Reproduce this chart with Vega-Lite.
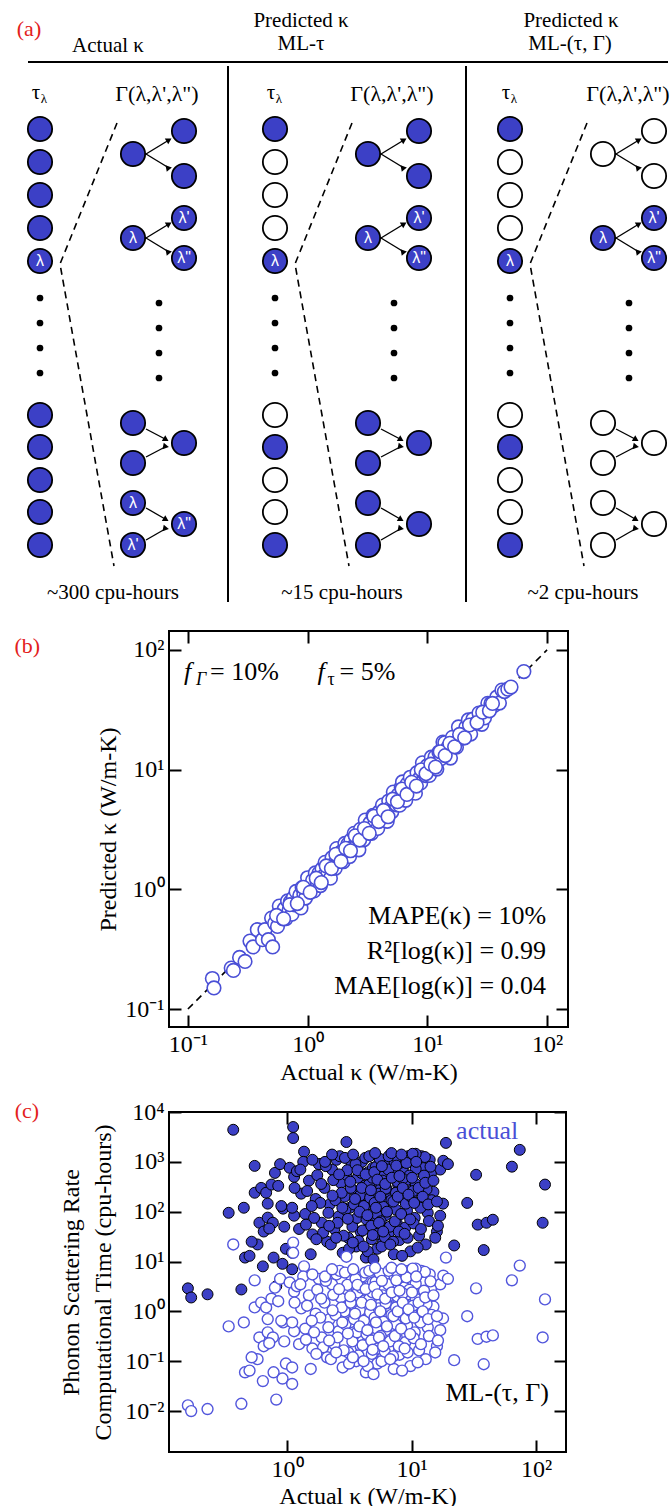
{
  "$schema": "https://vega.github.io/schema/vega-lite/v6.json",
  "padding": 0,
  "background": "white",
  "spacing": 14,
  "config": {
    "font": "Liberation Serif",
    "view": {"stroke": "black", "strokeWidth": 2},
    "axis": {"labelFont": "Liberation Serif", "labelFontSize": 24, "labelColor": "black", "titleFont": "Liberation Serif", "titleFontSize": 24, "titleFontWeight": "normal", "titleColor": "black", "tickColor": "black", "tickWidth": 2, "tickSize": -12, "labelPadding": 17, "domain": false, "grid": false}
  },
  "datasets": {
    "frameA": [{"x": 0, "y": 0, "x2": 670, "y2": 0}],
    "linesA": [{"x": 27, "y": 61, "x2": 667, "y2": 61}, {"x": 227, "y": 65, "x2": 227, "y2": 601}, {"x": 465, "y": 65, "x2": 465, "y2": 601}],
    "dashA": [
      {"col": 1, "seq": 1, "x": 116, "y": 122}, {"col": 1, "seq": 2, "x": 59, "y": 263}, {"col": 1, "seq": 3, "x": 113, "y": 565},
      {"col": 2, "seq": 1, "x": 351, "y": 122}, {"col": 2, "seq": 2, "x": 294, "y": 263}, {"col": 2, "seq": 3, "x": 348, "y": 565},
      {"col": 3, "seq": 1, "x": 586, "y": 122}, {"col": 3, "seq": 2, "x": 529, "y": 263}, {"col": 3, "seq": 3, "x": 583, "y": 565}
    ],
    "arrowA": [
      {"x": 145, "y": 153, "x2": 168, "y2": 139, "d": "u1"}, {"x": 145, "y": 153, "x2": 168, "y2": 167, "d": "d1"},
      {"x": 145, "y": 237, "x2": 168, "y2": 223, "d": "u1"}, {"x": 145, "y": 237, "x2": 168, "y2": 251, "d": "d1"},
      {"x": 145, "y": 428, "x2": 165, "y2": 438.5, "d": "d2"}, {"x": 145, "y": 456, "x2": 165, "y2": 445.5, "d": "u2"},
      {"x": 145, "y": 507, "x2": 165, "y2": 518.5, "d": "d2"}, {"x": 145, "y": 539, "x2": 165, "y2": 527.5, "d": "u2"},
      {"x": 380, "y": 153, "x2": 403, "y2": 139, "d": "u1"}, {"x": 380, "y": 153, "x2": 403, "y2": 167, "d": "d1"},
      {"x": 380, "y": 237, "x2": 403, "y2": 223, "d": "u1"}, {"x": 380, "y": 237, "x2": 403, "y2": 251, "d": "d1"},
      {"x": 380, "y": 428, "x2": 400, "y2": 438.5, "d": "d2"}, {"x": 380, "y": 456, "x2": 400, "y2": 445.5, "d": "u2"},
      {"x": 380, "y": 507, "x2": 400, "y2": 518.5, "d": "d2"}, {"x": 380, "y": 539, "x2": 400, "y2": 527.5, "d": "u2"},
      {"x": 615, "y": 153, "x2": 638, "y2": 139, "d": "u1"}, {"x": 615, "y": 153, "x2": 638, "y2": 167, "d": "d1"},
      {"x": 615, "y": 237, "x2": 638, "y2": 223, "d": "u1"}, {"x": 615, "y": 237, "x2": 638, "y2": 251, "d": "d1"},
      {"x": 615, "y": 428, "x2": 635, "y2": 438.5, "d": "d2"}, {"x": 615, "y": 456, "x2": 635, "y2": 445.5, "d": "u2"},
      {"x": 615, "y": 507, "x2": 635, "y2": 518.5, "d": "d2"}, {"x": 615, "y": 539, "x2": 635, "y2": 527.5, "d": "u2"}
    ],
    "circA": [
      {"x": 39, "y": 128, "s": "on"}, {"x": 39, "y": 161, "s": "on"}, {"x": 39, "y": 194, "s": "on"}, {"x": 39, "y": 227, "s": "on"}, {"x": 39, "y": 260, "s": "on"},
      {"x": 39, "y": 414, "s": "on"}, {"x": 39, "y": 446, "s": "on"}, {"x": 39, "y": 479, "s": "on"}, {"x": 39, "y": 511, "s": "on"}, {"x": 39, "y": 544, "s": "on"},
      {"x": 132, "y": 153, "s": "on"}, {"x": 183, "y": 130, "s": "on"}, {"x": 183, "y": 175, "s": "on"},
      {"x": 132, "y": 237, "s": "on"}, {"x": 183, "y": 217, "s": "on"}, {"x": 183, "y": 257, "s": "on"},
      {"x": 132, "y": 422, "s": "on"}, {"x": 132, "y": 462, "s": "on"}, {"x": 183, "y": 442, "s": "on"},
      {"x": 132, "y": 502, "s": "on"}, {"x": 132, "y": 544, "s": "on"}, {"x": 183, "y": 523, "s": "on"},
      {"x": 274, "y": 128, "s": "on"}, {"x": 274, "y": 161, "s": "off"}, {"x": 274, "y": 194, "s": "off"}, {"x": 274, "y": 227, "s": "off"}, {"x": 274, "y": 260, "s": "on"},
      {"x": 274, "y": 414, "s": "off"}, {"x": 274, "y": 446, "s": "on"}, {"x": 274, "y": 479, "s": "off"}, {"x": 274, "y": 511, "s": "off"}, {"x": 274, "y": 544, "s": "on"},
      {"x": 367, "y": 153, "s": "on"}, {"x": 418, "y": 130, "s": "on"}, {"x": 418, "y": 175, "s": "on"},
      {"x": 367, "y": 237, "s": "on"}, {"x": 418, "y": 217, "s": "on"}, {"x": 418, "y": 257, "s": "on"},
      {"x": 367, "y": 422, "s": "on"}, {"x": 367, "y": 462, "s": "on"}, {"x": 418, "y": 442, "s": "on"},
      {"x": 367, "y": 502, "s": "on"}, {"x": 367, "y": 544, "s": "on"}, {"x": 418, "y": 523, "s": "on"},
      {"x": 509, "y": 128, "s": "on"}, {"x": 509, "y": 161, "s": "off"}, {"x": 509, "y": 194, "s": "off"}, {"x": 509, "y": 227, "s": "off"}, {"x": 509, "y": 260, "s": "on"},
      {"x": 509, "y": 414, "s": "off"}, {"x": 509, "y": 446, "s": "on"}, {"x": 509, "y": 479, "s": "off"}, {"x": 509, "y": 511, "s": "off"}, {"x": 509, "y": 544, "s": "on"},
      {"x": 602, "y": 153, "s": "off"}, {"x": 653, "y": 130, "s": "off"}, {"x": 653, "y": 175, "s": "off"},
      {"x": 602, "y": 237, "s": "on"}, {"x": 653, "y": 217, "s": "on"}, {"x": 653, "y": 257, "s": "on"},
      {"x": 602, "y": 422, "s": "off"}, {"x": 602, "y": 462, "s": "off"}, {"x": 653, "y": 442, "s": "off"},
      {"x": 602, "y": 502, "s": "off"}, {"x": 602, "y": 544, "s": "off"}, {"x": 653, "y": 523, "s": "off"}
    ],
    "dotsA": [
      {"x": 39, "y": 297}, {"x": 39, "y": 322}, {"x": 39, "y": 347}, {"x": 39, "y": 372},
      {"x": 158, "y": 302}, {"x": 158, "y": 327}, {"x": 158, "y": 352}, {"x": 158, "y": 377},
      {"x": 274, "y": 297}, {"x": 274, "y": 322}, {"x": 274, "y": 347}, {"x": 274, "y": 372},
      {"x": 393, "y": 302}, {"x": 393, "y": 327}, {"x": 393, "y": 352}, {"x": 393, "y": 377},
      {"x": 509, "y": 297}, {"x": 509, "y": 322}, {"x": 509, "y": 347}, {"x": 509, "y": 372},
      {"x": 628, "y": 302}, {"x": 628, "y": 327}, {"x": 628, "y": 352}, {"x": 628, "y": 377}
    ],
    "lblA": [
      {"x": 39, "y": 260, "t": "λ"}, {"x": 132, "y": 237, "t": "λ"}, {"x": 183, "y": 217, "t": "λ'"}, {"x": 183, "y": 257, "t": "λ\""},
      {"x": 132, "y": 502, "t": "λ"}, {"x": 132, "y": 544, "t": "λ'"}, {"x": 183, "y": 523, "t": "λ\""},
      {"x": 274, "y": 260, "t": "λ"}, {"x": 367, "y": 237, "t": "λ"}, {"x": 418, "y": 217, "t": "λ'"}, {"x": 418, "y": 257, "t": "λ\""},
      {"x": 509, "y": 260, "t": "λ"}, {"x": 602, "y": 237, "t": "λ"}, {"x": 653, "y": 217, "t": "λ'"}, {"x": 653, "y": 257, "t": "λ\""}
    ],
    "txtA": [
      {"x": 107, "y": 45, "t": "Actual κ"}, {"x": 300, "y": 20, "t": "Predicted κ"}, {"x": 300, "y": 43, "t": "ML-τ"},
      {"x": 570, "y": 20, "t": "Predicted κ"}, {"x": 569, "y": 43, "t": "ML-(τ, Γ)"},
      {"x": 112, "y": 592, "t": "~300 cpu-hours"}, {"x": 341, "y": 592, "t": "~15 cpu-hours"}, {"x": 582, "y": 592, "t": "~2 cpu-hours"},
      {"x": 35, "y": 92, "t": "τ"}, {"x": 270, "y": 92, "t": "τ"}, {"x": 505, "y": 92, "t": "τ"}
    ],
    "gamA": [{"x": 156, "y": 93, "t": "Γ(λ,λ',λ\")"}, {"x": 391, "y": 93, "t": "Γ(λ,λ',λ\")"}, {"x": 627, "y": 93, "t": "Γ(λ,λ',λ\")"}],
    "subA": [{"x": 43, "y": 98, "t": "λ"}, {"x": 278, "y": 98, "t": "λ"}, {"x": 513, "y": 98, "t": "λ"}],
    "ptsB": [
      {"a": 0.16, "p": 0.18}, {"a": 0.165, "p": 0.15}, {"a": 0.23, "p": 0.22}, {"a": 0.24, "p": 0.21}, {"a": 0.27, "p": 0.27},
      {"a": 0.3, "p": 0.25}, {"a": 0.33, "p": 0.37}, {"a": 0.35, "p": 0.33}, {"a": 0.38, "p": 0.46}, {"a": 0.42, "p": 0.38},
      {"a": 0.44, "p": 0.46}, {"a": 0.47, "p": 0.38}, {"a": 0.5, "p": 0.575}, {"a": 0.51, "p": 0.33}, {"a": 0.53, "p": 0.52},
      {"a": 0.56, "p": 0.49}, {"a": 0.58, "p": 0.725}, {"a": 0.6, "p": 0.6}, {"a": 0.62, "p": 0.57}, {"a": 0.64, "p": 0.69},
      {"a": 0.66, "p": 0.57}, {"a": 0.68, "p": 0.8}, {"a": 0.7, "p": 0.67}, {"a": 0.72, "p": 0.79}, {"a": 0.74, "p": 0.62},
      {"a": 0.76, "p": 0.85}, {"a": 0.78, "p": 0.74}, {"a": 0.8, "p": 0.96}, {"a": 0.83, "p": 0.75}, {"a": 0.86, "p": 0.89},
      {"a": 0.88, "p": 0.7}, {"a": 0.9, "p": 1.035}, {"a": 0.93, "p": 0.91}, {"a": 0.96, "p": 0.845}, {"a": 1.0, "p": 1.25},
      {"a": 1.03, "p": 1.03}, {"a": 1.06, "p": 0.975}, {"a": 1.1, "p": 1.19}, {"a": 1.13, "p": 0.97}, {"a": 1.16, "p": 1.37},
      {"a": 1.2, "p": 1.15}, {"a": 1.24, "p": 1.36}, {"a": 1.28, "p": 1.075}, {"a": 1.32, "p": 1.48}, {"a": 1.36, "p": 1.29},
      {"a": 1.4, "p": 1.68}, {"a": 1.45, "p": 1.305}, {"a": 1.5, "p": 1.56}, {"a": 1.55, "p": 1.24}, {"a": 1.6, "p": 1.84},
      {"a": 1.65, "p": 1.62}, {"a": 1.7, "p": 1.5}, {"a": 1.75, "p": 2.19}, {"a": 1.8, "p": 1.8}, {"a": 1.86, "p": 1.71},
      {"a": 1.92, "p": 2.07}, {"a": 1.98, "p": 1.7}, {"a": 2.05, "p": 2.42}, {"a": 2.1, "p": 2.02}, {"a": 2.17, "p": 2.39},
      {"a": 2.24, "p": 1.88}, {"a": 2.3, "p": 2.58}, {"a": 2.38, "p": 2.26}, {"a": 2.45, "p": 2.94}, {"a": 2.52, "p": 2.27},
      {"a": 2.6, "p": 2.7}, {"a": 2.68, "p": 2.14}, {"a": 2.76, "p": 3.17}, {"a": 2.85, "p": 2.79}, {"a": 2.94, "p": 2.59},
      {"a": 3.03, "p": 3.79}, {"a": 3.12, "p": 3.12}, {"a": 3.22, "p": 2.96}, {"a": 3.32, "p": 3.59}, {"a": 3.42, "p": 2.94},
      {"a": 3.52, "p": 4.15}, {"a": 3.63, "p": 3.48}, {"a": 3.74, "p": 4.11}, {"a": 3.85, "p": 3.23}, {"a": 3.97, "p": 4.45},
      {"a": 4.1, "p": 3.9}, {"a": 4.22, "p": 5.06}, {"a": 4.35, "p": 3.92}, {"a": 4.48, "p": 4.66}, {"a": 4.62, "p": 3.7},
      {"a": 4.76, "p": 5.47}, {"a": 4.9, "p": 4.8}, {"a": 5.05, "p": 4.44}, {"a": 5.2, "p": 6.5}, {"a": 5.36, "p": 5.36},
      {"a": 5.52, "p": 5.08}, {"a": 5.7, "p": 6.16}, {"a": 5.87, "p": 5.05}, {"a": 6.05, "p": 7.14}, {"a": 6.2, "p": 7.9},
      {"a": 6.23, "p": 5.98}, {"a": 6.42, "p": 7.06}, {"a": 6.6, "p": 5.54}, {"a": 6.8, "p": 7.62}, {"a": 7.0, "p": 6.65},
      {"a": 7.2, "p": 8.64}, {"a": 7.45, "p": 6.7}, {"a": 7.7, "p": 8.0}, {"a": 7.95, "p": 6.36}, {"a": 8.2, "p": 9.43},
      {"a": 8.5, "p": 8.33}, {"a": 8.8, "p": 7.74}, {"a": 9.1, "p": 11.4}, {"a": 9.4, "p": 9.4}, {"a": 9.7, "p": 8.92},
      {"a": 10.0, "p": 10.8}, {"a": 10.4, "p": 8.94}, {"a": 10.8, "p": 12.7}, {"a": 11.2, "p": 10.75}, {"a": 11.6, "p": 12.8},
      {"a": 12.0, "p": 10.1}, {"a": 12.5, "p": 14.0}, {"a": 13.0, "p": 12.35}, {"a": 13.5, "p": 17.0}, {"a": 14.0, "p": 16.8},
      {"a": 14.5, "p": 13.05}, {"a": 15.0, "p": 15.6}, {"a": 15.6, "p": 12.5}, {"a": 16.2, "p": 18.6}, {"a": 16.8, "p": 16.5},
      {"a": 17.5, "p": 15.4}, {"a": 18.2, "p": 22.75}, {"a": 19.0, "p": 19.0}, {"a": 20.0, "p": 18.4}, {"a": 21.0, "p": 22.7},
      {"a": 22.0, "p": 26.0}, {"a": 23.0, "p": 19.8}, {"a": 24.0, "p": 26.4}, {"a": 25.5, "p": 24.5}, {"a": 27.0, "p": 29.7},
      {"a": 28.5, "p": 23.9}, {"a": 30.0, "p": 27.0}, {"a": 32.0, "p": 35.8}, {"a": 34.0, "p": 35.7}, {"a": 36.0, "p": 34.2},
      {"a": 38.0, "p": 40.3}, {"a": 40.0, "p": 36.0}, {"a": 42.0, "p": 46.2}, {"a": 44.0, "p": 44.9}, {"a": 47.0, "p": 47.0},
      {"a": 50.0, "p": 49.0}, {"a": 64.0, "p": 66.0},
      {"a": 0.55, "p": 0.605}, {"a": 0.63, "p": 0.567}, {"a": 0.71, "p": 0.745}, {"a": 0.82, "p": 0.76}, {"a": 0.92, "p": 1.04},
      {"a": 1.05, "p": 0.945}, {"a": 1.18, "p": 1.24}, {"a": 1.3, "p": 1.14}, {"a": 1.43, "p": 1.57}, {"a": 1.58, "p": 1.49},
      {"a": 1.72, "p": 1.96}, {"a": 1.9, "p": 1.71}, {"a": 2.08, "p": 2.2}, {"a": 2.28, "p": 2.1}, {"a": 2.5, "p": 2.8},
      {"a": 2.72, "p": 2.58}, {"a": 2.98, "p": 3.22}, {"a": 3.27, "p": 2.94}, {"a": 3.58, "p": 4.08}, {"a": 3.92, "p": 3.68},
      {"a": 4.3, "p": 4.56}, {"a": 4.7, "p": 4.04}, {"a": 5.15, "p": 5.67}, {"a": 5.63, "p": 5.4}, {"a": 6.15, "p": 6.89},
      {"a": 6.75, "p": 6.21}, {"a": 7.4, "p": 7.84}, {"a": 8.1, "p": 7.29}, {"a": 8.9, "p": 9.97}, {"a": 9.75, "p": 9.26},
      {"a": 10.7, "p": 11.1}, {"a": 11.7, "p": 10.5}, {"a": 12.8, "p": 14.1}, {"a": 14.1, "p": 13.1}, {"a": 15.4, "p": 16.6},
      {"a": 16.9, "p": 15.5}, {"a": 18.6, "p": 19.7}, {"a": 20.5, "p": 18.45}, {"a": 22.5, "p": 23.6}, {"a": 26.0, "p": 24.7},
      {"a": 29.0, "p": 30.2}, {"a": 33.0, "p": 31.0}, {"a": 35.0, "p": 35.7}
    ],
    "ptsC": [
      {"k": 0.16, "ta": 2.9, "tm": 0.013}, {"k": 0.17, "ta": 1.9, "tm": 0.010}, {"k": 0.23, "ta": 2.2, "tm": 0.011}, {"k": 0.43, "ta": 2.75, "tm": 0.014},
      {"k": 0.82, "ta": 3.2, "tm": 0.017}, {"k": 0.37, "ta": 4400, "tm": 22}, {"k": 0.34, "ta": 95, "tm": 0.5}, {"k": 0.46, "ta": 12, "tm": 0.06},
      {"k": 0.55, "ta": 830, "tm": 4.2}, {"k": 0.55, "ta": 240, "tm": 1.2}, {"k": 0.62, "ta": 300, "tm": 1.5}, {"k": 0.68, "ta": 240, "tm": 1.2},
      {"k": 0.7, "ta": 145, "tm": 0.7}, {"k": 0.75, "ta": 350, "tm": 1.8}, {"k": 0.8, "ta": 600, "tm": 3}, {"k": 0.85, "ta": 330, "tm": 1.6},
      {"k": 0.88, "ta": 900, "tm": 4.5}, {"k": 0.6, "ta": 60, "tm": 0.3}, {"k": 0.65, "ta": 40, "tm": 0.2}, {"k": 0.7, "ta": 76, "tm": 0.38},
      {"k": 0.77, "ta": 60, "tm": 0.3}, {"k": 0.72, "ta": 46, "tm": 0.23}, {"k": 0.93, "ta": 115, "tm": 0.6}, {"k": 0.98, "ta": 18, "tm": 0.09},
      {"k": 1.1, "ta": 15, "tm": 0.075}, {"k": 0.5, "ta": 13, "tm": 0.065}, {"k": 0.58, "ta": 22, "tm": 0.11}, {"k": 0.78, "ta": 12, "tm": 0.06},
      {"k": 0.92, "ta": 9, "tm": 0.045}, {"k": 0.64, "ta": 8, "tm": 0.04}, {"k": 0.95, "ta": 50, "tm": 0.25}, {"k": 0.9, "ta": 130, "tm": 0.65},
      {"k": 1.05, "ta": 760, "tm": 3.8}, {"k": 1.14, "ta": 500, "tm": 2.5}, {"k": 1.14, "ta": 83, "tm": 0.4}, {"k": 1.12, "ta": 5000, "tm": 24},
      {"k": 1.12, "ta": 3000, "tm": 15}, {"k": 1.37, "ta": 1600, "tm": 8}, {"k": 1.87, "ta": 910, "tm": 4.5}, {"k": 1.1, "ta": 7, "tm": 0.035},
      {"k": 0.52, "ta": 25, "tm": 0.12}, {"k": 0.45, "ta": 120, "tm": 0.6},
      {"k": 1.2, "ta": 650, "tm": 3.2}, {"k": 1.3, "ta": 230, "tm": 1.15}, {"k": 1.4, "ta": 90, "tm": 0.45}, {"k": 1.5, "ta": 420, "tm": 2.1},
      {"k": 1.6, "ta": 35, "tm": 0.18}, {"k": 1.7, "ta": 180, "tm": 0.9}, {"k": 1.8, "ta": 900, "tm": 4.5}, {"k": 1.9, "ta": 60, "tm": 0.3},
      {"k": 2.0, "ta": 300, "tm": 1.5}, {"k": 2.1, "ta": 25, "tm": 0.12}, {"k": 2.2, "ta": 140, "tm": 0.7}, {"k": 2.3, "ta": 700, "tm": 3.5},
      {"k": 2.4, "ta": 45, "tm": 0.22}, {"k": 2.5, "ta": 1100, "tm": 5.5}, {"k": 2.6, "ta": 80, "tm": 0.4}, {"k": 2.7, "ta": 380, "tm": 1.9},
      {"k": 2.8, "ta": 15, "tm": 0.075}, {"k": 2.9, "ta": 200, "tm": 1.0}, {"k": 3.0, "ta": 550, "tm": 2.8}, {"k": 3.1, "ta": 30, "tm": 0.15},
      {"k": 3.2, "ta": 120, "tm": 0.6}, {"k": 3.3, "ta": 850, "tm": 4.2}, {"k": 3.4, "ta": 65, "tm": 0.32}, {"k": 3.5, "ta": 260, "tm": 1.3},
      {"k": 3.6, "ta": 20, "tm": 0.1}, {"k": 3.7, "ta": 480, "tm": 2.4}, {"k": 3.8, "ta": 160, "tm": 0.8}, {"k": 3.9, "ta": 40, "tm": 0.2},
      {"k": 4.0, "ta": 1000, "tm": 5}, {"k": 4.1, "ta": 95, "tm": 0.48}, {"k": 4.2, "ta": 330, "tm": 1.65}, {"k": 4.3, "ta": 12, "tm": 0.06},
      {"k": 4.4, "ta": 210, "tm": 1.05}, {"k": 4.5, "ta": 620, "tm": 3.1}, {"k": 4.6, "ta": 55, "tm": 0.28}, {"k": 4.7, "ta": 140, "tm": 0.7},
      {"k": 4.8, "ta": 28, "tm": 0.14}, {"k": 4.9, "ta": 760, "tm": 3.8}, {"k": 5.0, "ta": 240, "tm": 1.2}, {"k": 5.1, "ta": 70, "tm": 0.35},
      {"k": 5.2, "ta": 400, "tm": 2.0}, {"k": 5.3, "ta": 18, "tm": 0.09}, {"k": 5.4, "ta": 110, "tm": 0.55}, {"k": 5.5, "ta": 950, "tm": 4.8},
      {"k": 5.6, "ta": 45, "tm": 0.22}, {"k": 5.7, "ta": 300, "tm": 1.5}, {"k": 5.8, "ta": 175, "tm": 0.88}, {"k": 5.9, "ta": 24, "tm": 0.12},
      {"k": 6.0, "ta": 520, "tm": 2.6}, {"k": 6.2, "ta": 85, "tm": 0.42}, {"k": 6.4, "ta": 1050, "tm": 5.2}, {"k": 6.6, "ta": 38, "tm": 0.19},
      {"k": 6.8, "ta": 230, "tm": 1.15}, {"k": 7.0, "ta": 130, "tm": 0.65}, {"k": 7.2, "ta": 14, "tm": 0.07}, {"k": 7.4, "ta": 680, "tm": 3.4},
      {"k": 7.6, "ta": 60, "tm": 0.3}, {"k": 7.8, "ta": 350, "tm": 1.75}, {"k": 8.0, "ta": 27, "tm": 0.135}, {"k": 8.3, "ta": 190, "tm": 0.95},
      {"k": 8.6, "ta": 820, "tm": 4.1}, {"k": 8.9, "ta": 48, "tm": 0.24}, {"k": 9.2, "ta": 105, "tm": 0.52}, {"k": 9.5, "ta": 440, "tm": 2.2},
      {"k": 9.8, "ta": 16, "tm": 0.08}, {"k": 10.2, "ta": 280, "tm": 1.4}, {"k": 10.6, "ta": 75, "tm": 0.38}, {"k": 11, "ta": 900, "tm": 4.5},
      {"k": 11.5, "ta": 33, "tm": 0.165}, {"k": 12, "ta": 160, "tm": 0.8}, {"k": 12.5, "ta": 560, "tm": 2.8}, {"k": 13, "ta": 22, "tm": 0.11},
      {"k": 13.5, "ta": 95, "tm": 0.48}, {"k": 14, "ta": 1100, "tm": 5.5}, {"k": 15, "ta": 250, "tm": 1.25}, {"k": 16, "ta": 40, "tm": 0.2},
      {"k": 1.1, "ta": 120, "tm": 0.6}, {"k": 1.25, "ta": 45, "tm": 0.22}, {"k": 1.35, "ta": 1000, "tm": 5}, {"k": 1.45, "ta": 260, "tm": 1.3},
      {"k": 1.55, "ta": 14, "tm": 0.07}, {"k": 1.65, "ta": 75, "tm": 0.38}, {"k": 1.75, "ta": 540, "tm": 2.7}, {"k": 1.85, "ta": 150, "tm": 0.75},
      {"k": 1.95, "ta": 38, "tm": 0.19}, {"k": 2.05, "ta": 820, "tm": 4.1}, {"k": 2.15, "ta": 95, "tm": 0.48}, {"k": 2.25, "ta": 22, "tm": 0.11},
      {"k": 2.35, "ta": 430, "tm": 2.15}, {"k": 2.45, "ta": 170, "tm": 0.85}, {"k": 2.55, "ta": 60, "tm": 0.3}, {"k": 2.65, "ta": 1300, "tm": 6.5},
      {"k": 2.75, "ta": 240, "tm": 1.2}, {"k": 2.85, "ta": 33, "tm": 0.165}, {"k": 2.95, "ta": 110, "tm": 0.55}, {"k": 3.05, "ta": 680, "tm": 3.4},
      {"k": 3.15, "ta": 18, "tm": 0.09}, {"k": 3.25, "ta": 300, "tm": 1.5}, {"k": 3.35, "ta": 50, "tm": 0.25}, {"k": 3.45, "ta": 140, "tm": 0.7},
      {"k": 3.55, "ta": 900, "tm": 4.5}, {"k": 3.65, "ta": 75, "tm": 0.38}, {"k": 3.75, "ta": 26, "tm": 0.13}, {"k": 3.85, "ta": 210, "tm": 1.05},
      {"k": 3.95, "ta": 600, "tm": 3}, {"k": 4.05, "ta": 42, "tm": 0.21}, {"k": 4.15, "ta": 130, "tm": 0.65}, {"k": 4.25, "ta": 1200, "tm": 6},
      {"k": 4.35, "ta": 70, "tm": 0.35}, {"k": 4.45, "ta": 16, "tm": 0.08}, {"k": 4.55, "ta": 350, "tm": 1.75}, {"k": 4.65, "ta": 190, "tm": 0.95},
      {"k": 4.75, "ta": 52, "tm": 0.26}, {"k": 4.85, "ta": 480, "tm": 2.4}, {"k": 4.95, "ta": 11, "tm": 0.055}, {"k": 5.05, "ta": 150, "tm": 0.75},
      {"k": 5.15, "ta": 780, "tm": 3.9}, {"k": 5.25, "ta": 90, "tm": 0.45}, {"k": 5.35, "ta": 36, "tm": 0.18}, {"k": 5.45, "ta": 230, "tm": 1.15},
      {"k": 5.55, "ta": 1150, "tm": 5.8}, {"k": 5.65, "ta": 64, "tm": 0.32}, {"k": 5.75, "ta": 20, "tm": 0.1}, {"k": 5.85, "ta": 420, "tm": 2.1},
      {"k": 5.95, "ta": 125, "tm": 0.62}, {"k": 6.1, "ta": 31, "tm": 0.155}, {"k": 6.3, "ta": 290, "tm": 1.45}, {"k": 6.5, "ta": 700, "tm": 3.5},
      {"k": 6.7, "ta": 50, "tm": 0.25}, {"k": 6.9, "ta": 170, "tm": 0.85}, {"k": 7.1, "ta": 25, "tm": 0.125}, {"k": 7.3, "ta": 1000, "tm": 5},
      {"k": 7.5, "ta": 110, "tm": 0.55}, {"k": 7.7, "ta": 400, "tm": 2}, {"k": 7.9, "ta": 40, "tm": 0.2}, {"k": 8.1, "ta": 250, "tm": 1.25},
      {"k": 8.4, "ta": 13, "tm": 0.065}, {"k": 8.7, "ta": 600, "tm": 3}, {"k": 9.0, "ta": 145, "tm": 0.72}, {"k": 9.3, "ta": 30, "tm": 0.15},
      {"k": 9.6, "ta": 1200, "tm": 6}, {"k": 9.9, "ta": 200, "tm": 1}, {"k": 10.4, "ta": 58, "tm": 0.29}, {"k": 10.8, "ta": 360, "tm": 1.8},
      {"k": 11.2, "ta": 19, "tm": 0.095}, {"k": 11.8, "ta": 120, "tm": 0.6}, {"k": 12.4, "ta": 750, "tm": 3.8}, {"k": 13.2, "ta": 280, "tm": 1.4},
      {"k": 13.8, "ta": 65, "tm": 0.32}, {"k": 14.5, "ta": 170, "tm": 0.85}, {"k": 15.5, "ta": 30, "tm": 0.15}, {"k": 17, "ta": 700, "tm": 3.5},
      {"k": 12, "ta": 1300, "tm": 6.5}, {"k": 12.8, "ta": 1250, "tm": 6.2}, {"k": 9.4, "ta": 1300, "tm": 6.5}, {"k": 7.6, "ta": 1250, "tm": 6.2},
      {"k": 18.9, "ta": 2400, "tm": 12}, {"k": 74, "ta": 1740, "tm": 8.3}, {"k": 64, "ta": 800, "tm": 4.2}, {"k": 118, "ta": 350, "tm": 1.74},
      {"k": 33, "ta": 550, "tm": 2.9}, {"k": 28, "ta": 150, "tm": 0.8}, {"k": 34, "ta": 55, "tm": 0.28}, {"k": 40, "ta": 60, "tm": 0.31},
      {"k": 45, "ta": 69, "tm": 0.33}, {"k": 113, "ta": 60, "tm": 0.3}, {"k": 38, "ta": 17, "tm": 0.087}, {"k": 22, "ta": 21, "tm": 0.105},
      {"k": 18, "ta": 1050, "tm": 5.2}, {"k": 19.6, "ta": 900, "tm": 4.5}, {"k": 3.0, "ta": 2500, "tm": 12.5}, {"k": 10.8, "ta": 1450, "tm": 7.2},
      {"k": 10.2, "ta": 1450, "tm": 7.2}, {"k": 17.9, "ta": 145, "tm": 0.72}, {"k": 17, "ta": 83, "tm": 0.42}, {"k": 16.3, "ta": 52, "tm": 0.26},
      {"k": 14.3, "ta": 570, "tm": 2.8}, {"k": 12.6, "ta": 530, "tm": 2.6}, {"k": 10.8, "ta": 720, "tm": 3.6}, {"k": 9.6, "ta": 530, "tm": 2.7},
      {"k": 10.3, "ta": 260, "tm": 1.3}, {"k": 8.5, "ta": 460, "tm": 2.3}, {"k": 7.5, "ta": 240, "tm": 1.2}, {"k": 6.2, "ta": 290, "tm": 1.45},
      {"k": 1.15, "ta": 300, "tm": 1.5}, {"k": 1.28, "ta": 700, "tm": 3.5}, {"k": 1.42, "ta": 55, "tm": 0.27}, {"k": 1.58, "ta": 130, "tm": 0.65},
      {"k": 1.72, "ta": 28, "tm": 0.14}, {"k": 1.88, "ta": 360, "tm": 1.8}, {"k": 2.02, "ta": 1000, "tm": 5}, {"k": 2.18, "ta": 52, "tm": 0.26},
      {"k": 2.32, "ta": 210, "tm": 1.05}, {"k": 2.48, "ta": 30, "tm": 0.15}, {"k": 2.62, "ta": 560, "tm": 2.8}, {"k": 2.78, "ta": 120, "tm": 0.6},
      {"k": 2.92, "ta": 1200, "tm": 6}, {"k": 3.08, "ta": 72, "tm": 0.36}, {"k": 3.22, "ta": 400, "tm": 2}, {"k": 3.38, "ta": 24, "tm": 0.12},
      {"k": 3.52, "ta": 180, "tm": 0.9}, {"k": 3.68, "ta": 680, "tm": 3.4}, {"k": 3.82, "ta": 100, "tm": 0.5}, {"k": 3.98, "ta": 300, "tm": 1.5},
      {"k": 4.12, "ta": 20, "tm": 0.1}, {"k": 4.28, "ta": 560, "tm": 2.8}, {"k": 4.42, "ta": 85, "tm": 0.42}, {"k": 4.58, "ta": 1300, "tm": 6.5},
      {"k": 4.72, "ta": 270, "tm": 1.35}, {"k": 4.88, "ta": 34, "tm": 0.17}, {"k": 5.02, "ta": 620, "tm": 3.1}, {"k": 5.18, "ta": 120, "tm": 0.6},
      {"k": 5.32, "ta": 440, "tm": 2.2}, {"k": 5.48, "ta": 60, "tm": 0.3}, {"k": 5.62, "ta": 200, "tm": 1}, {"k": 5.78, "ta": 820, "tm": 4.1},
      {"k": 5.92, "ta": 40, "tm": 0.2}, {"k": 6.15, "ta": 360, "tm": 1.8}, {"k": 6.35, "ta": 100, "tm": 0.5}, {"k": 6.55, "ta": 1300, "tm": 6.5},
      {"k": 6.75, "ta": 22, "tm": 0.11}, {"k": 6.95, "ta": 480, "tm": 2.4}, {"k": 7.15, "ta": 160, "tm": 0.8}, {"k": 7.35, "ta": 64, "tm": 0.32},
      {"k": 7.55, "ta": 840, "tm": 4.2}, {"k": 7.75, "ta": 200, "tm": 1}, {"k": 8.0, "ta": 520, "tm": 2.6}, {"k": 8.25, "ta": 90, "tm": 0.45},
      {"k": 8.5, "ta": 300, "tm": 1.5}, {"k": 8.8, "ta": 36, "tm": 0.18}, {"k": 9.1, "ta": 950, "tm": 4.8}, {"k": 9.45, "ta": 220, "tm": 1.1},
      {"k": 9.75, "ta": 70, "tm": 0.35}, {"k": 10.1, "ta": 480, "tm": 2.4}, {"k": 10.5, "ta": 150, "tm": 0.75}, {"k": 10.9, "ta": 1000, "tm": 5},
      {"k": 11.4, "ta": 300, "tm": 1.5}, {"k": 11.9, "ta": 45, "tm": 0.22}, {"k": 12.3, "ta": 200, "tm": 1}, {"k": 12.9, "ta": 380, "tm": 1.9},
      {"k": 13.6, "ta": 140, "tm": 0.7}, {"k": 14.2, "ta": 800, "tm": 4}, {"k": 15, "ta": 420, "tm": 2.1}, {"k": 16, "ta": 160, "tm": 0.8},
      {"k": 3.4, "ta": 1400, "tm": 7}, {"k": 5.1, "ta": 1500, "tm": 7.5}, {"k": 6.9, "ta": 1500, "tm": 7.5}, {"k": 2.3, "ta": 1400, "tm": 7},
      {"k": 1.6, "ta": 1100, "tm": 5.5}, {"k": 8.3, "ta": 1400, "tm": 7}
    ]
  },
  "vconcat": [
    {
      "width": 399,
      "height": 614,
      "view": {"stroke": null},
      "layer": [
        {"data": {"name": "frameA"}, "mark": {"type": "rule", "color": "white", "strokeWidth": 1},
         "encoding": {"x": {"field": "x", "type": "quantitative", "scale": {"domain": [168, 567], "nice": false, "zero": false}, "axis": null},
                      "y": {"field": "y", "type": "quantitative", "scale": {"domain": [0, 614], "reverse": true, "nice": false, "zero": false}, "axis": null},
                      "x2": {"field": "x2"}, "y2": {"field": "y2"}}},
        {"data": {"name": "linesA"}, "mark": {"type": "rule", "color": "black", "strokeWidth": 2},
         "encoding": {"x": {"field": "x", "type": "quantitative", "scale": {"domain": [168, 567], "nice": false, "zero": false}, "axis": null},
                      "y": {"field": "y", "type": "quantitative", "scale": {"domain": [0, 614], "reverse": true, "nice": false, "zero": false}, "axis": null},
                      "x2": {"field": "x2"}, "y2": {"field": "y2"}}},
        {"data": {"name": "dashA"}, "mark": {"type": "line", "color": "black", "strokeWidth": 1.6, "strokeDash": [7, 5]},
         "encoding": {"x": {"field": "x", "type": "quantitative", "scale": {"domain": [168, 567], "nice": false, "zero": false}, "axis": null},
                      "y": {"field": "y", "type": "quantitative", "scale": {"domain": [0, 614], "reverse": true, "nice": false, "zero": false}, "axis": null},
                      "detail": {"field": "col", "type": "nominal"}, "order": {"field": "seq", "type": "quantitative"}}},
        {"data": {"name": "arrowA"}, "mark": {"type": "rule", "color": "black", "strokeWidth": 1.4},
         "encoding": {"x": {"field": "x", "type": "quantitative", "scale": {"domain": [168, 567], "nice": false, "zero": false}, "axis": null},
                      "y": {"field": "y", "type": "quantitative", "scale": {"domain": [0, 614], "reverse": true, "nice": false, "zero": false}, "axis": null},
                      "x2": {"field": "x2"}, "y2": {"field": "y2"}}},
        {"data": {"name": "arrowA"}, "mark": {"type": "point", "shape": "triangle-right", "filled": true, "color": "black", "size": 45, "opacity": 1},
         "encoding": {"x": {"field": "x2", "type": "quantitative", "scale": {"domain": [168, 567], "nice": false, "zero": false}, "axis": null},
                      "y": {"field": "y2", "type": "quantitative", "scale": {"domain": [0, 614], "reverse": true, "nice": false, "zero": false}, "axis": null},
                      "angle": {"field": "d", "type": "nominal", "scale": {"domain": ["u1", "d1", "u2", "d2"], "range": [-31, 31, -28, 28]}, "legend": null}}},
        {"data": {"name": "circA"}, "mark": {"type": "point", "shape": "circle", "filled": true, "stroke": "black", "strokeWidth": 1.8, "size": 590, "opacity": 1},
         "encoding": {"x": {"field": "x", "type": "quantitative", "scale": {"domain": [168, 567], "nice": false, "zero": false}, "axis": null},
                      "y": {"field": "y", "type": "quantitative", "scale": {"domain": [0, 614], "reverse": true, "nice": false, "zero": false}, "axis": null},
                      "fill": {"field": "s", "type": "nominal", "scale": {"domain": ["on", "off"], "range": ["#3c40c6", "#ffffff"]}, "legend": null}}},
        {"data": {"name": "dotsA"}, "mark": {"type": "point", "shape": "circle", "filled": true, "color": "black", "size": 45, "opacity": 1},
         "encoding": {"x": {"field": "x", "type": "quantitative", "scale": {"domain": [168, 567], "nice": false, "zero": false}, "axis": null},
                      "y": {"field": "y", "type": "quantitative", "scale": {"domain": [0, 614], "reverse": true, "nice": false, "zero": false}, "axis": null}}},
        {"data": {"name": "lblA"}, "mark": {"type": "text", "font": "Liberation Sans", "fontSize": 16, "color": "white"},
         "encoding": {"x": {"field": "x", "type": "quantitative", "scale": {"domain": [168, 567], "nice": false, "zero": false}, "axis": null},
                      "y": {"field": "y", "type": "quantitative", "scale": {"domain": [0, 614], "reverse": true, "nice": false, "zero": false}, "axis": null},
                      "text": {"field": "t"}}},
        {"data": {"name": "txtA"}, "mark": {"type": "text", "font": "Liberation Serif", "fontSize": 21, "color": "black"},
         "encoding": {"x": {"field": "x", "type": "quantitative", "scale": {"domain": [168, 567], "nice": false, "zero": false}, "axis": null},
                      "y": {"field": "y", "type": "quantitative", "scale": {"domain": [0, 614], "reverse": true, "nice": false, "zero": false}, "axis": null},
                      "text": {"field": "t"}}},
        {"data": {"name": "gamA"}, "mark": {"type": "text", "font": "Liberation Serif", "fontSize": 22, "color": "black"},
         "encoding": {"x": {"field": "x", "type": "quantitative", "scale": {"domain": [168, 567], "nice": false, "zero": false}, "axis": null},
                      "y": {"field": "y", "type": "quantitative", "scale": {"domain": [0, 614], "reverse": true, "nice": false, "zero": false}, "axis": null},
                      "text": {"field": "t"}}},
        {"data": {"name": "subA"}, "mark": {"type": "text", "font": "Liberation Serif", "fontSize": 13, "color": "black"},
         "encoding": {"x": {"field": "x", "type": "quantitative", "scale": {"domain": [168, 567], "nice": false, "zero": false}, "axis": null},
                      "y": {"field": "y", "type": "quantitative", "scale": {"domain": [0, 614], "reverse": true, "nice": false, "zero": false}, "axis": null},
                      "text": {"field": "t"}}},
        {"data": {"values": [{"x": 28, "y": 28, "t": "(a)"}]}, "mark": {"type": "text", "font": "Liberation Serif", "fontSize": 22, "color": "#e3211c"},
         "encoding": {"x": {"field": "x", "type": "quantitative", "scale": {"domain": [168, 567], "nice": false, "zero": false}, "axis": null},
                      "y": {"field": "y", "type": "quantitative", "scale": {"domain": [0, 614], "reverse": true, "nice": false, "zero": false}, "axis": null},
                      "text": {"field": "t"}}}
      ]
    },
    {
      "width": 399,
      "height": 396,
      "layer": [
        {"data": {"values": [{"a": 0.1, "p": 0.1}, {"a": 100, "p": 100}]},
         "mark": {"type": "line", "color": "black", "strokeWidth": 1.6, "strokeDash": [7, 5]},
         "encoding": {
           "x": {"field": "a", "type": "quantitative", "scale": {"type": "log", "domain": [0.0695, 149.6], "nice": false},
                 "axis": {"orient": "bottom", "values": [0.1, 1, 10, 100], "labelExpr": "'10' + ['⁻³','⁻²','⁻¹','⁰','¹','²','³','⁴'][round(log(datum.value)/LN10)+3]", "title": "Actual κ (W/m-K)", "titlePadding": 4}},
           "y": {"field": "p", "type": "quantitative", "scale": {"type": "log", "domain": [0.0708, 143.9], "nice": false},
                 "axis": {"orient": "left", "values": [0.1, 1, 10, 100], "labelExpr": "'10' + ['⁻³','⁻²','⁻¹','⁰','¹','²','³','⁴'][round(log(datum.value)/LN10)+3]", "title": "Predicted κ (W/m-K)", "titlePadding": 4}}}},
        {"data": {"name": "ptsB"},
         "mark": {"type": "point", "shape": "circle", "filled": true, "fill": "white", "stroke": "#4a4fd6", "strokeWidth": 1.6, "size": 185, "opacity": 1},
         "encoding": {
           "x": {"field": "a", "type": "quantitative", "scale": {"type": "log", "domain": [0.0695, 149.6], "nice": false},
                 "axis": {"orient": "top", "values": [0.1, 1, 10, 100], "labels": false, "title": null}},
           "y": {"field": "p", "type": "quantitative", "scale": {"type": "log", "domain": [0.0708, 143.9], "nice": false},
                 "axis": {"orient": "right", "values": [0.1, 1, 10, 100], "labels": false, "title": null}}}},
        {"data": {"values": [{}]}, "mark": {"type": "text", "text": "(b)", "font": "Liberation Serif", "fontSize": 22, "color": "#e3211c"},
         "encoding": {"x": {"datum": 0.00456, "type": "quantitative", "scale": {"type": "log", "domain": [0.0695, 149.6], "nice": false}, "axis": null},
                      "y": {"datum": 108, "type": "quantitative", "scale": {"type": "log", "domain": [0.0708, 143.9], "nice": false}, "axis": null}}},
        {"data": {"values": [{}]}, "mark": {"type": "text", "text": "f", "font": "Liberation Serif", "fontStyle": "italic", "fontSize": 26, "align": "left", "baseline": "alphabetic"},
         "encoding": {"x": {"datum": 0.0927, "type": "quantitative", "scale": {"type": "log", "domain": [0.0695, 149.6], "nice": false}, "axis": null},
                      "y": {"datum": 56.2, "type": "quantitative", "scale": {"type": "log", "domain": [0.0708, 143.9], "nice": false}, "axis": null}}},
        {"data": {"values": [{}]}, "mark": {"type": "text", "text": "Γ", "font": "Liberation Serif", "fontStyle": "italic", "fontSize": 18, "align": "left", "baseline": "alphabetic", "dx": 12, "dy": 5},
         "encoding": {"x": {"datum": 0.0927, "type": "quantitative", "scale": {"type": "log", "domain": [0.0695, 149.6], "nice": false}, "axis": null},
                      "y": {"datum": 56.2, "type": "quantitative", "scale": {"type": "log", "domain": [0.0708, 143.9], "nice": false}, "axis": null}}},
        {"data": {"values": [{}]}, "mark": {"type": "text", "text": "= 10%", "font": "Liberation Serif", "fontSize": 26, "align": "left", "baseline": "alphabetic", "dx": 26},
         "encoding": {"x": {"datum": 0.0927, "type": "quantitative", "scale": {"type": "log", "domain": [0.0695, 149.6], "nice": false}, "axis": null},
                      "y": {"datum": 56.2, "type": "quantitative", "scale": {"type": "log", "domain": [0.0708, 143.9], "nice": false}, "axis": null}}},
        {"data": {"values": [{}]}, "mark": {"type": "text", "text": "f", "font": "Liberation Serif", "fontStyle": "italic", "fontSize": 26, "align": "left", "baseline": "alphabetic"},
         "encoding": {"x": {"datum": 1.21, "type": "quantitative", "scale": {"type": "log", "domain": [0.0695, 149.6], "nice": false}, "axis": null},
                      "y": {"datum": 56.2, "type": "quantitative", "scale": {"type": "log", "domain": [0.0708, 143.9], "nice": false}, "axis": null}}},
        {"data": {"values": [{}]}, "mark": {"type": "text", "text": "τ", "font": "Liberation Serif", "fontSize": 18, "align": "left", "baseline": "alphabetic", "dx": 10, "dy": 5},
         "encoding": {"x": {"datum": 1.21, "type": "quantitative", "scale": {"type": "log", "domain": [0.0695, 149.6], "nice": false}, "axis": null},
                      "y": {"datum": 56.2, "type": "quantitative", "scale": {"type": "log", "domain": [0.0708, 143.9], "nice": false}, "axis": null}}},
        {"data": {"values": [{}]}, "mark": {"type": "text", "text": "= 5%", "font": "Liberation Serif", "fontSize": 26, "align": "left", "baseline": "alphabetic", "dx": 22},
         "encoding": {"x": {"datum": 1.21, "type": "quantitative", "scale": {"type": "log", "domain": [0.0695, 149.6], "nice": false}, "axis": null},
                      "y": {"datum": 56.2, "type": "quantitative", "scale": {"type": "log", "domain": [0.0708, 143.9], "nice": false}, "axis": null}}},
        {"data": {"values": [{}]}, "mark": {"type": "text", "text": ["MAPE(κ) = 10%", "R²[log(κ)] = 0.99", "MAE[log(κ)] = 0.04"], "font": "Liberation Serif", "fontSize": 26, "align": "right", "baseline": "alphabetic", "lineHeight": 35},
         "encoding": {"x": {"datum": 98.2, "type": "quantitative", "scale": {"type": "log", "domain": [0.0695, 149.6], "nice": false}, "axis": null},
                      "y": {"datum": 0.51, "type": "quantitative", "scale": {"type": "log", "domain": [0.0708, 143.9], "nice": false}, "axis": null}}}
      ],
      "resolve": {"axis": {"x": "independent", "y": "independent"}}
    },
    {
      "width": 397,
      "height": 340,
      "layer": [
        {"data": {"name": "ptsC"},
         "mark": {"type": "point", "shape": "circle", "filled": true, "fill": "#3c40c6", "stroke": "black", "strokeWidth": 1, "size": 120, "opacity": 1},
         "encoding": {
           "x": {"field": "k", "type": "quantitative", "scale": {"type": "log", "domain": [0.1128, 174], "nice": false},
                 "axis": {"orient": "bottom", "values": [1, 10, 100], "labelExpr": "'10' + ['⁻³','⁻²','⁻¹','⁰','¹','²','³','⁴'][round(log(datum.value)/LN10)+3]", "title": "Actual κ (W/m-K)", "titlePadding": 3}},
           "y": {"field": "ta", "type": "quantitative", "scale": {"type": "log", "domain": [0.00151, 10000], "nice": false},
                 "axis": {"orient": "left", "values": [0.01, 0.1, 1, 10, 100, 1000, 10000], "labelExpr": "'10' + ['⁻³','⁻²','⁻¹','⁰','¹','²','³','⁴'][round(log(datum.value)/LN10)+3]", "title": ["Phonon Scattering Rate", "Computational Time (cpu-hours)"], "titleLineHeight": 32, "titlePadding": 9}}}},
        {"data": {"name": "ptsC"},
         "mark": {"type": "point", "shape": "circle", "filled": true, "fill": "white", "stroke": "#5256dc", "strokeWidth": 1.4, "size": 120, "opacity": 1},
         "encoding": {
           "x": {"field": "k", "type": "quantitative", "scale": {"type": "log", "domain": [0.1128, 174], "nice": false},
                 "axis": {"orient": "top", "values": [1, 10, 100], "labels": false, "title": null}},
           "y": {"field": "tm", "type": "quantitative", "scale": {"type": "log", "domain": [0.00151, 10000], "nice": false},
                 "axis": {"orient": "right", "values": [0.01, 0.1, 1, 10, 100, 1000, 10000], "labels": false, "title": null}}}},
        {"data": {"values": [{}]}, "mark": {"type": "text", "text": "(c)", "font": "Liberation Serif", "fontSize": 22, "color": "#e3211c"},
         "encoding": {"x": {"datum": 0.00815, "type": "quantitative", "scale": {"type": "log", "domain": [0.1128, 174], "nice": false}, "axis": null},
                      "y": {"datum": 10470, "type": "quantitative", "scale": {"type": "log", "domain": [0.00151, 10000], "nice": false}, "axis": null}}},
        {"data": {"values": [{}]}, "mark": {"type": "text", "text": "actual", "font": "Liberation Serif", "fontSize": 26, "color": "#4a4fd6", "align": "left"},
         "encoding": {"x": {"datum": 22.8, "type": "quantitative", "scale": {"type": "log", "domain": [0.1128, 174], "nice": false}, "axis": null},
                      "y": {"datum": 4100, "type": "quantitative", "scale": {"type": "log", "domain": [0.00151, 10000], "nice": false}, "axis": null}}},
        {"data": {"values": [{}]}, "mark": {"type": "text", "text": "ML-(τ, Γ)", "font": "Liberation Serif", "fontSize": 26, "color": "black", "align": "right"},
         "encoding": {"x": {"datum": 127, "type": "quantitative", "scale": {"type": "log", "domain": [0.1128, 174], "nice": false}, "axis": null},
                      "y": {"datum": 0.0229, "type": "quantitative", "scale": {"type": "log", "domain": [0.00151, 10000], "nice": false}, "axis": null}}}
      ],
      "resolve": {"axis": {"x": "independent", "y": "independent"}}
    }
  ]
}
